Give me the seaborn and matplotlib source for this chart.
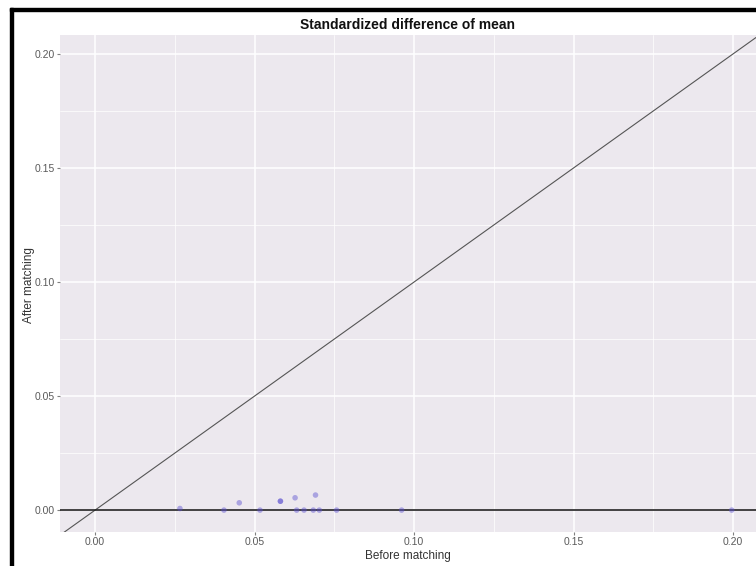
import matplotlib
matplotlib.use("Agg")
import matplotlib.pyplot as plt
import seaborn as sns
import numpy as np
import pandas as pd
from matplotlib.patches import Rectangle

# Data
before = [0.0266, 0.0404, 0.0452, 0.0517, 0.0581, 0.0581, 0.0627, 0.0632,
          0.0655, 0.0684, 0.0691, 0.0703, 0.0757, 0.0961, 0.1996]
after = [0.0007, 0.0000, 0.0032, 0.0000, 0.0039, 0.0039, 0.0054, 0.0000,
         0.0000, 0.0000, 0.0066, 0.0000, 0.0000, 0.0000, 0.0000]
ticks = [0.00, 0.05, 0.10, 0.15, 0.20]
tick_labels = ["0.00", "0.05", "0.10", "0.15", "0.20"]
minor_ticks = [0.025, 0.075, 0.125, 0.175]
title = "Standardized difference of mean"
xlabel = "Before matching"
ylabel = "After matching"

df = pd.DataFrame({"before": before, "after": after})

sns.set_theme(style="white")
plt.rcParams['font.family'] = ['Liberation Sans', 'DejaVu Sans']

fig = plt.figure(figsize=(7.56, 5.66), dpi=100)
ax = fig.add_axes([60/756, 1-532/566, 1-60/756, (532-35)/566])
ax.set_facecolor('#ECE8EE')

xlim = (-0.011, 0.2072)
ylim = (-0.0096, 0.2083)
ax.set_xlim(*xlim)
ax.set_ylim(*ylim)

ax.set_xticks(ticks)
ax.set_xticklabels(tick_labels)
ax.set_yticks(ticks)
ax.set_yticklabels(tick_labels)
ax.set_xticks(minor_ticks, minor=True)
ax.set_yticks(minor_ticks, minor=True)
ax.grid(True, which='major', color='white', lw=1.1)
ax.grid(True, which='minor', color='white', lw=0.5)
ax.set_axisbelow(True)
for s in ax.spines.values():
    s.set_visible(False)
ax.tick_params(axis='both', which='major', length=2.5, width=0.8, color='#7F7F7F',
               labelsize=7.5, labelcolor='#5A5A5A', pad=1, bottom=True, left=True)
ax.tick_params(axis='both', which='minor', length=0)

# reference lines
ax.plot([xlim[0], xlim[1]], [xlim[0], xlim[1]], color='#555555', lw=0.8, zorder=2)
ax.axhline(0, color='#222222', lw=1.2, zorder=2)

sns.scatterplot(data=df, x="before", y="after", ax=ax, color='#5B4FD0',
                alpha=0.45, s=16, edgecolor='none', zorder=3)

ax.set_xlabel(xlabel, fontsize=8.5, color='#333333', labelpad=2)
ax.set_ylabel(ylabel, fontsize=8.5, color='#333333')
ax.yaxis.set_label_coords(-0.036, 0.497)
ax.set_title(title, fontsize=10, fontweight='bold', color='#111111', pad=4)

# screenshot frame (left and top black border)
fig.patches.append(Rectangle((10/756, -0.1), 3/756, 1.1 - 8/566, transform=fig.transFigure,
                             color='black', zorder=10))
fig.patches.append(Rectangle((10/756, 1-11/566), 1.0, 3/566, transform=fig.transFigure,
                             color='black', zorder=10))

fig.savefig("out.png", dpi=100)
